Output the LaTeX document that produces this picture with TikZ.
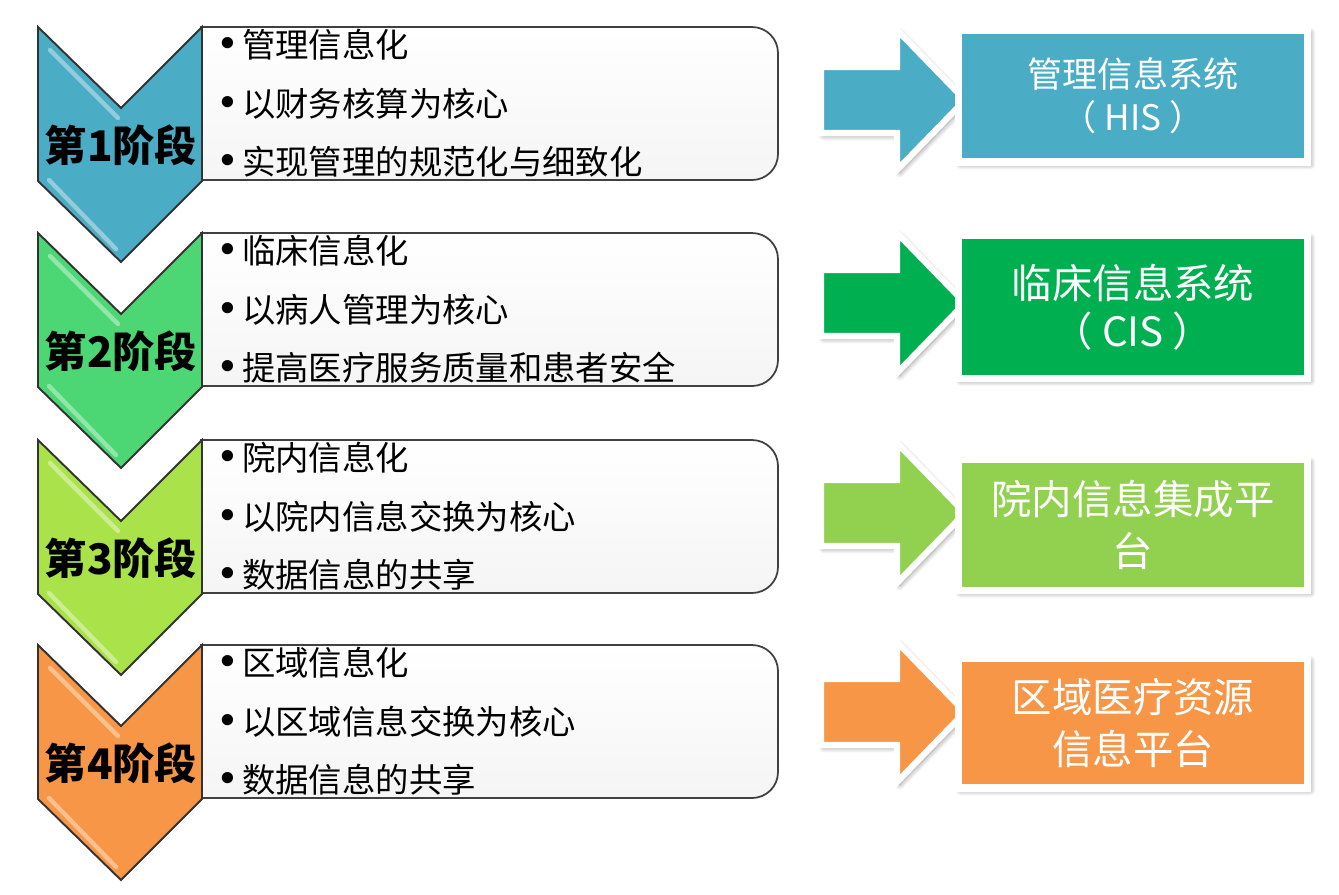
\documentclass[tikz,border=0pt]{standalone}
\usepackage{fontspec}
\setmainfont{Noto Sans CJK SC}
\newfontfamily\dotfont{DejaVu Sans}
\usetikzlibrary{shadows.blur}
\definecolor{chevA}{RGB}{75,172,198}
\definecolor{chevB}{RGB}{76,214,116}
\definecolor{chevC}{RGB}{170,226,74}
\definecolor{chevD}{RGB}{247,150,70}
\definecolor{sysA}{RGB}{75,172,198}
\definecolor{sysB}{RGB}{0,176,80}
\definecolor{sysC}{RGB}{146,208,80}
\definecolor{sysD}{RGB}{247,150,70}
\tikzset{
  infobox/.style={draw=black!75,line width=1pt,top color=white,bottom color=gray!8},
  chevron/.style={draw=black!80,line width=1.1pt,line join=miter},
  bevel/.style={white,opacity=.4,line width=2.5pt,line cap=round},
  stagelabel/.style={inner sep=0pt,font=\fontsize{24}{26}\selectfont\bfseries},
  bullettxt/.style={anchor=west,inner sep=0pt,font=\fontsize{19}{21}\selectfont},
  softshadow/.style={blur shadow={shadow xshift=1.5pt,shadow yshift=-1.5pt,
    shadow blur radius=3pt,shadow blur steps=8,shadow opacity=45}},
  blockarr/.style={draw=white,line width=3.5pt,line join=miter,softshadow},
  sysbox/.style={draw=white,line width=4pt,text=white,align=center,inner sep=0pt,
    minimum width=7cm,softshadow}
}
\newcommand{\dotitem}[1]{{\dotfont\fontsize{22}{22}\selectfont •}\hspace{0.06cm}#1}
\begin{document}
\begin{tikzpicture}[x=0.02cm,y=-0.02cm]
  \useasboundingbox (0,0) rectangle (1339,894);
  % four stages, top edge \t
  \foreach \t/\cc/\ac/\k/\la/\lb/\lc/\ay/\by/\bh/\fs/\fl/\sys in {
    27/chevA/sysA/1/管理信息化/以财务核算为核心/实现管理的规范化与细致化/100/96/2.64cm/20/24.5/{管理信息系统\\（ HIS ）},
    233/chevB/sysB/2/临床信息化/以病人管理为核心/提高医疗服务质量和患者安全/303/307/2.86cm/23/27.5/{临床信息系统\\（ CIS ）},
    440/chevC/sysC/3/院内信息化/以院内信息交换为核心/数据信息的共享/513/525/2.62cm/23/29.5/{院内信息集成平\\台},
    645/chevD/sysD/4/区域信息化/以区域信息交换为核心/数据信息的共享/712/723/2.6cm/23/29.5/{区域医疗资源\\信息平台}}{
    % text panel with rounded right side
    \draw[infobox] (201,\t) -- (752,\t) to[out=0,in=90] (778,\t+26) -- (778,\t+127)
      to[out=-90,in=0] (752,\t+153) -- (201,\t+153) -- cycle;
    \node[bullettxt] (la\k) at (216,\t+18) {\dotitem{\la}};
    \node[bullettxt] (lb\k) at (216,\t+77) {\dotitem{\lb}};
    \node[bullettxt] (lc\k) at (216,\t+135) {\dotitem{\lc}};
    % chevron
    \draw[chevron,fill=\cc] (38,\t) -- (121,\t+81) -- (202,\t) -- (202,\t+154)
      -- (121,\t+235) -- (38,\t+154) -- cycle;
    \draw[bevel] (50,\t+23) -- (118,\t+91);
    \draw[bevel] (49,\t+153) -- (116,\t+222);
    \node[stagelabel] (stage\k) at (121,\t+118) {第{\k}阶段};
    % block arrow and system box
    \draw[blockarr,fill=\ac] (821,\ay-33) -- (897,\ay-33) -- (897,\ay-70) -- (965,\ay)
      -- (897,\ay+70) -- (897,\ay+33) -- (821,\ay+33) -- cycle;
    \node[sysbox,fill=\ac,minimum height=\bh,font=\fontsize{\fs}{\fl}\selectfont]
      (sys\k) at (1133,\by) {\sys};
  }
\end{tikzpicture}
\end{document}
